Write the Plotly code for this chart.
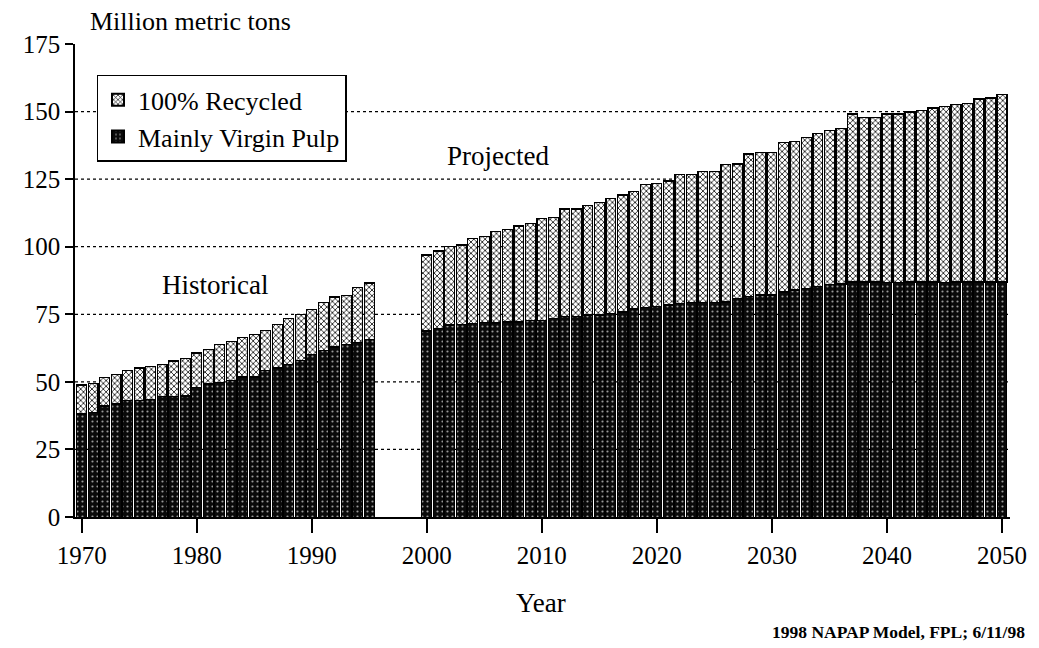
import plotly.graph_objects as go

# ---- data ----
hist_years = list(range(1970, 1996))
hist_virgin = [38.1, 38.7, 41.1, 41.8, 43.0, 43.0, 43.6, 44.5, 44.5, 44.8,
               47.9, 49.2, 49.7, 50.4, 51.8, 51.8, 54.1, 55.1, 56.3, 58.0,
               60.2, 61.7, 62.9, 63.7, 64.5, 65.8]
hist_recycled = [10.7, 10.7, 10.5, 11.0, 11.3, 12.1, 12.2, 11.9, 13.2, 13.9,
                 12.8, 12.7, 14.2, 14.5, 14.5, 15.8, 15.0, 16.2, 17.1, 17.0,
                 16.6, 17.6, 18.5, 18.3, 20.3, 20.8]

proj_years = list(range(2000, 2051))
proj_virgin = [68.8, 69.8, 71.0, 71.3, 71.6, 72.0, 71.8, 72.2, 72.2, 72.8,
               72.8, 73.5, 74.1, 74.1, 74.7, 74.7, 75.3, 75.9, 77.0, 77.5,
               77.8, 78.4, 79.0, 79.3, 79.3, 79.3, 79.6, 80.9, 81.5, 82.1,
               82.1, 83.3, 84.0, 84.6, 85.2, 86.0, 86.2, 87.0, 87.0, 87.0,
               86.7, 86.7, 87.0, 87.0, 87.0, 86.7, 87.0, 87.0, 87.0, 87.0,
               87.0]
proj_recycled = [28.1, 28.6, 29.0, 29.3, 31.5, 31.7, 33.8, 34.2, 35.5, 35.9,
                 37.7, 37.4, 39.8, 39.9, 40.5, 41.7, 42.6, 43.2, 43.4, 45.4,
                 45.7, 45.9, 47.6, 47.3, 48.5, 48.5, 50.7, 49.7, 52.8, 52.7,
                 52.7, 55.2, 54.9, 55.7, 56.8, 56.9, 57.6, 62.1, 60.8, 60.8,
                 62.4, 62.4, 62.8, 63.4, 64.3, 65.2, 65.7, 66.1, 67.7, 68.0,
                 69.2]

years = hist_years + proj_years
virgin = hist_virgin + proj_virgin
recycled = hist_recycled + proj_recycled

x_ticks = list(range(1970, 2051, 10))
y_ticks = [0, 25, 50, 75, 100, 125, 150, 175]
grid_vals = [25, 50, 75, 100, 125, 150]

FONT = "Liberation Serif, Times New Roman, serif"

fig = go.Figure()
fig.add_trace(go.Bar(
    x=years, y=virgin, name="Mainly Virgin Pulp",
    marker=dict(color="#000000",
                line=dict(color="#000000", width=1),
                pattern=dict(shape=".", fgcolor="#9a9a9a", bgcolor="#0a0a0a",
                             size=5, solidity=0.15, fillmode="replace")),
))
fig.add_trace(go.Bar(
    x=years, y=recycled, name="100% Recycled",
    marker=dict(color="#ffffff",
                line=dict(color="#000000", width=1.3),
                pattern=dict(shape="x", fgcolor="#000000", bgcolor="#ffffff",
                             size=4, solidity=0.35, fillmode="replace")),
))

shapes = []
for g in grid_vals:
    shapes.append(dict(type="line", xref="paper", x0=0, x1=1, yref="y", y0=g, y1=g,
                       line=dict(color="black", width=1.2, dash="dot"), layer="below"))

fig.update_layout(
    width=1039, height=648,
    barmode="stack", bargap=0.14,
    paper_bgcolor="white", plot_bgcolor="white",
    margin=dict(l=75, r=24, t=44, b=131),
    font=dict(family=FONT, size=25, color="black"),
    shapes=shapes,
    showlegend=True,
    legend=dict(x=0.023, y=0.935, xanchor="left", yanchor="top",
                traceorder="reversed", bordercolor="black", borderwidth=1.5,
                bgcolor="white", font=dict(family=FONT, size=26),
                itemsizing="constant", tracegroupgap=0),
    xaxis=dict(range=[1969.42, 2050.7], tickvals=x_ticks, showgrid=False,
               showline=True, linecolor="black", linewidth=1.5,
               ticks="outside", ticklen=14, tickwidth=1.5, tickcolor="black",
               ticklabelstandoff=1, zeroline=False,
               tickfont=dict(family=FONT, size=25)),
    yaxis=dict(range=[0, 175], tickvals=y_ticks, showgrid=False,
               showline=True, linecolor="black", linewidth=1.5,
               ticks="outside", ticklen=8, tickwidth=1.5, tickcolor="black",
               zeroline=False, tickfont=dict(family=FONT, size=25)),
    annotations=[
        dict(text="Million metric tons", xref="paper", yref="paper",
             x=0.014, y=1.048, xanchor="left", yanchor="middle",
             showarrow=False, font=dict(family=FONT, size=26)),
        dict(text="Historical", xref="x", yref="y", x=1981.6, y=85.8,
             showarrow=False, font=dict(family=FONT, size=27)),
        dict(text="Projected", xref="x", yref="y", x=2006.2, y=133.5,
             showarrow=False, font=dict(family=FONT, size=27)),
        dict(text="Year", xref="paper", yref="paper", x=0.498, y=-0.182,
             xanchor="center", yanchor="middle", showarrow=False,
             font=dict(family=FONT, size=27)),
        dict(text="<b>1998 NAPAP Model, FPL; 6/11/98</b>", xref="paper", yref="paper",
             x=1.018, y=-0.243, xanchor="right", yanchor="middle", showarrow=False,
             font=dict(family=FONT, size=17.5)),
    ],
)

fig.write_html("out.html", config={"displayModeBar": False},
               post_script="document.body.style.margin='0';")
